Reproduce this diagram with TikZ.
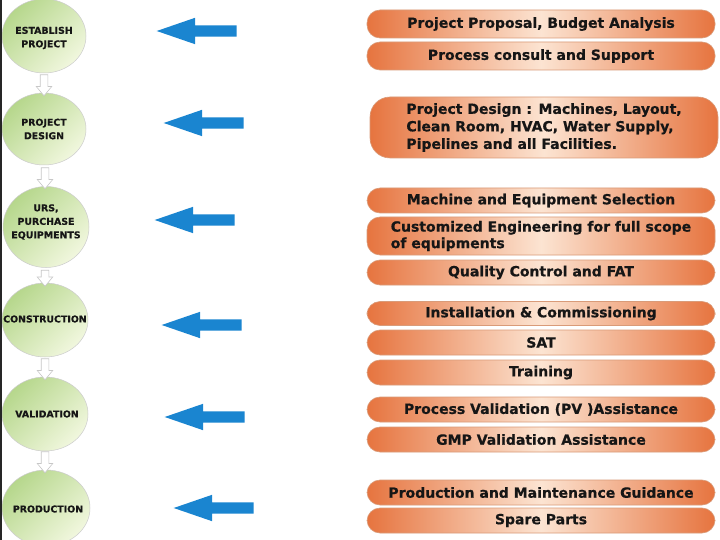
\documentclass[tikz,border=0pt]{standalone}
\usepackage{fontspec}
\setmainfont{DejaVu Sans}[BoldFeatures={FakeBold=0.6}]
\usetikzlibrary{shapes.geometric,shapes.arrows}
\definecolor{gTop}{HTML}{B6D78C}
\definecolor{gBot}{HTML}{F1F7DE}
\definecolor{oEdge}{HTML}{E6743F}
\definecolor{oMid}{HTML}{FCE4D2}
\definecolor{oLine}{HTML}{C9703F}
\definecolor{arrBlue}{HTML}{1A85D0}
\definecolor{txt}{HTML}{161616}
\tikzset{
  stage/.style={ellipse, draw=black!20, line width=0.5pt, top color=gTop, bottom color=gBot,
    shading angle=45, inner sep=0pt},
  stagetext/.style={inner sep=0pt, font=\bfseries\fontsize{9.4}{13.5}\selectfont, text=txt, align=center},
  task/.style={rectangle, rounded corners=13pt, draw=oLine!70, line width=0.6pt,
    left color=oEdge, right color=oEdge, middle color=oMid,
    minimum width=348pt, inner sep=0pt, font=\bfseries\fontsize{14}{17.5}\selectfont, text=txt, align=center},
  bluearr/.style={single arrow, fill=arrBlue, draw=none, shape border rotate=180,
    inner sep=5.5pt, minimum width=1pt, single arrow head extend=7.5pt, single arrow tip angle=38,
    minimum height=80pt},
  downarr/.style={single arrow, fill=white, draw=black!22, line width=0.6pt, shape border rotate=270,
    inner sep=3.5pt, minimum width=1pt, single arrow head extend=4pt, single arrow tip angle=80,
    minimum height=21pt},
}
\begin{document}
\begin{tikzpicture}[x=1pt,y=-1pt]
\useasboundingbox (0,0) rectangle (720,540);
\fill[white] (0,0) rectangle (720,540);

% stages
\node[stage, minimum width=84pt, minimum height=74pt] (s1) at (44,36) {};
\node[stagetext] (s1t) at (44,38) {ESTABLISH\\PROJECT};
\node[stage, minimum width=84pt, minimum height=72pt] (s2) at (44,129) {};
\node[stagetext] (s2t) at (44,129) {PROJECT\\DESIGN};
\node[stage, minimum width=86pt, minimum height=81pt] (s3) at (46,227) {};
\node[stagetext] (s3t) at (46,222) {URS,\\PURCHASE\\EQUIPMENTS};
\node[stage, minimum width=86pt, minimum height=74pt] (s4) at (45,320) {};
\node[stagetext] (s4t) at (45,319) {CONSTRUCTION};
\node[stage, minimum width=86pt, minimum height=74pt] (s5) at (45,414) {};
\node[stagetext] (s5t) at (47,414) {VALIDATION};
\node[stage, minimum width=88pt, minimum height=76pt] (s6) at (46,508) {};
\node[stagetext] (s6t) at (48,509) {PRODUCTION};

% left frame edge
\fill[black!85] (0,0) rectangle (1.5,540);

% down arrows between stages
\node[downarr] (d1) at (44,83) {};
\node[downarr] (d2) at (45,176) {};
\node[downarr, minimum height=16pt] (d3) at (45,276) {};
\node[downarr] (d4) at (45,367) {};
\node[downarr] (d5) at (45,460) {};

% blue arrows
\node[bluearr] (b1) at (205,31) {};
\node[bluearr] (b2) at (212,123) {};
\node[bluearr] (b3) at (203,220) {};
\node[bluearr] (b4) at (210,325) {};
\node[bluearr] (b5) at (213,417) {};
\node[bluearr] (b6) at (222,508) {};

% tasks
\node[task, minimum height=28pt] (t1) at (541,24) {Project Proposal, Budget Analysis};
\node[task, minimum height=28pt] (t2) at (541,56) {Process consult and Support};
\node[task, minimum height=61pt, rounded corners=20pt, align=left] (t3) at (544,127.5)
  {Project Design : Machines, Layout,\\Clean Room, HVAC, Water Supply,\\Pipelines and all Facilities.};
\node[task, minimum height=25pt] (t4) at (541,200.5) {Machine and Equipment Selection};
\node[task, minimum height=38pt, align=left, font=\bfseries\fontsize{14}{16.5}\selectfont] (t5) at (541,236) {Customized Engineering for full scope\\of equipments};
\node[task, minimum height=25pt] (t6) at (541,272.5) {Quality Control and FAT};
\node[task, minimum height=24pt] (t7) at (541,313.5) {Installation \& Commissioning};
\node[task, minimum height=25pt] (t8) at (541,342.5) {SAT};
\node[task, minimum height=25pt] (t9) at (541,372.5) {Training};
\node[task, minimum height=25pt] (t10) at (541,409.5) {Process Validation (PV )Assistance};
\node[task, minimum height=25pt] (t11) at (541,439.5) {GMP Validation Assistance};
\node[task, minimum height=25pt] (t12) at (541,492.5) {Production and Maintenance Guidance};
\node[task, minimum height=25pt] (t13) at (541,520.5) {Spare Parts};
\end{tikzpicture}
\end{document}
